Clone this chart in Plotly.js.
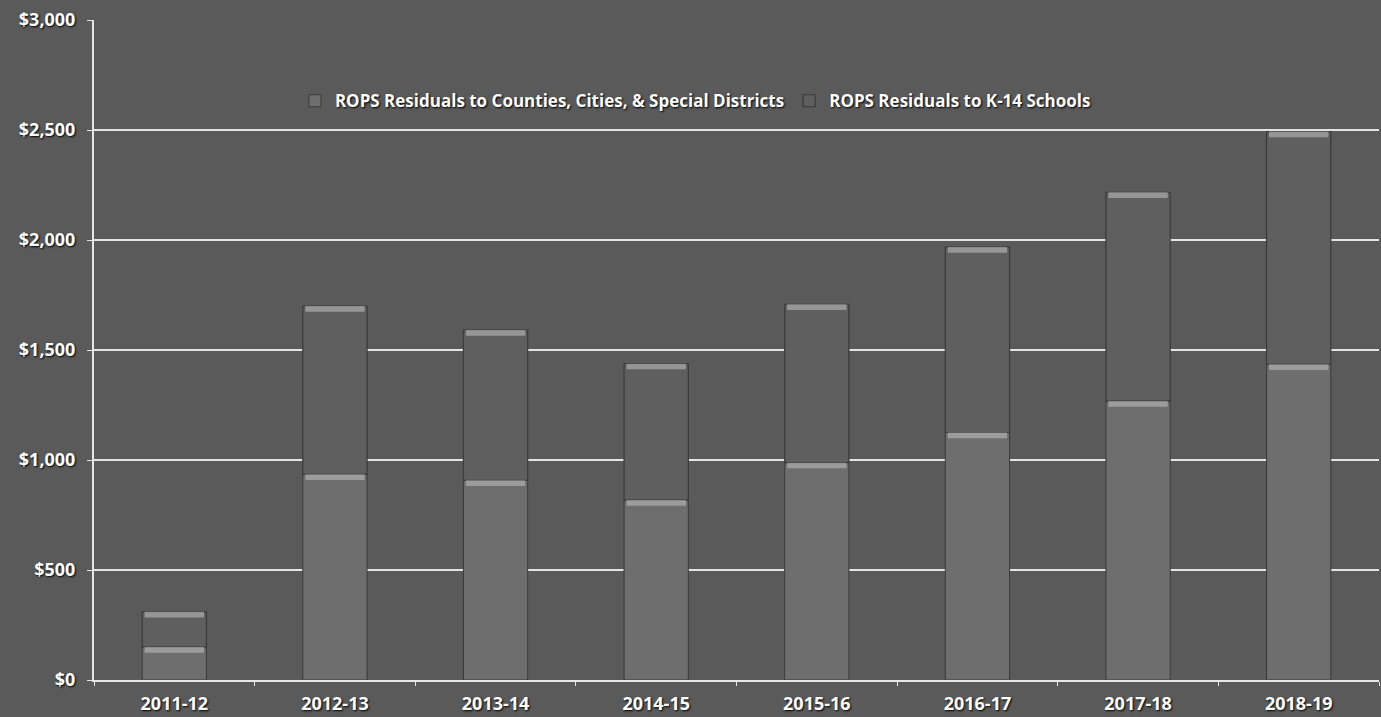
<!DOCTYPE html>
<html>
<head>
<meta charset="utf-8">
<script src="https://cdn.plot.ly/plotly-3.0.1.min.js"></script>
<style>
  html, body { margin: 0; padding: 0; background: #5a5a5a; }
  #chart { width: 1381px; height: 717px; }
</style>
</head>
<body>
<div id="chart"></div>
<script>
// Fiscal years shown on the x axis
const years = ['2011-12', '2012-13', '2013-14', '2014-15', '2015-16', '2016-17', '2017-18', '2018-19'];

// ROPS residuals, $ millions
const countiesCitiesDistricts = [150, 935, 908, 818, 988, 1125, 1268, 1435];
const k14Schools = [160, 765, 683, 620, 720, 843, 949, 1058];

// Axis ticks
const yTickVals = [0, 500, 1000, 1500, 2000, 2500, 3000];
const yTickText = ['$0', '$500', '$1,000', '$1,500', '$2,000', '$2,500', '$3,000'];

// Stack tops (bases for the upper segment)
const totals = years.map((_, i) => countiesCitiesDistricts[i] + k14Schools[i]);

// Bevelled highlight at the top of each segment
const CAP = 26;
const capTrace = (tops) => ({
  type: 'bar', x: years, y: tops.map(() => CAP), base: tops.map(t => t - CAP),
  marker: { color: 'rgba(195,195,195,0.55)', line: { width: 0 } },
  width: 0.37, showlegend: false, hoverinfo: 'skip'
});

const FONT = 'Open Sans, Noto Sans, sans-serif';
const shadow = '1px 1px 2px #000000';

const traces = [
  {
    type: 'bar', name: 'ROPS Residuals to Counties, Cities, & Special Districts',
    x: years, y: countiesCitiesDistricts, base: years.map(() => 0),
    marker: { color: '#6e6e6e', line: { color: '#3a3a3a', width: 1 } }
  },
  {
    type: 'bar', name: 'ROPS Residuals to K-14 Schools',
    x: years, y: k14Schools, base: countiesCitiesDistricts,
    marker: { color: '#5f5f5f', line: { color: '#3a3a3a', width: 1.2 } }
  },
  capTrace(countiesCitiesDistricts),
  capTrace(totals)
];

const layout = {
  width: 1381, height: 717,
  margin: { l: 94, r: 2, t: 20, b: 37 },
  paper_bgcolor: '#5a5a5a',
  plot_bgcolor: '#5a5a5a',
  barmode: 'overlay',
  bargap: 0.6,
  showlegend: true,
  legend: {
    orientation: 'h', traceorder: 'normal',
    x: 0.468, xanchor: 'center', y: 0.877, yanchor: 'middle',
    bgcolor: 'rgba(0,0,0,0)',
    font: { family: FONT, size: 17, color: '#ffffff', weight: 700, shadow: shadow },
    itemwidth: 30
  },
  xaxis: {
    type: 'category',
    showgrid: false,
    showline: true, linecolor: '#e6e6e6', linewidth: 2,
    ticks: 'outside', tickson: 'boundaries', ticklen: 4, tickcolor: '#e6e6e6',
    ticklabelstandoff: 6,
    tickfont: { family: FONT, size: 18, color: '#ffffff', weight: 700, shadow: shadow },
    fixedrange: true
  },
  yaxis: {
    range: [0, 3000],
    tickvals: yTickVals, ticktext: yTickText,
    showgrid: true, gridcolor: '#e4e4e4', gridwidth: 2,
    showline: true, linecolor: '#e6e6e6', linewidth: 2,
    ticks: 'outside', ticklen: 5, tickcolor: '#e6e6e6',
    ticklabelstandoff: 8,
    tickfont: { family: FONT, size: 18, color: '#ffffff', weight: 700, shadow: shadow },
    zeroline: false,
    fixedrange: true
  }
};

Plotly.newPlot('chart', traces, layout, { displayModeBar: false, staticPlot: true });
</script>
</body>
</html>
